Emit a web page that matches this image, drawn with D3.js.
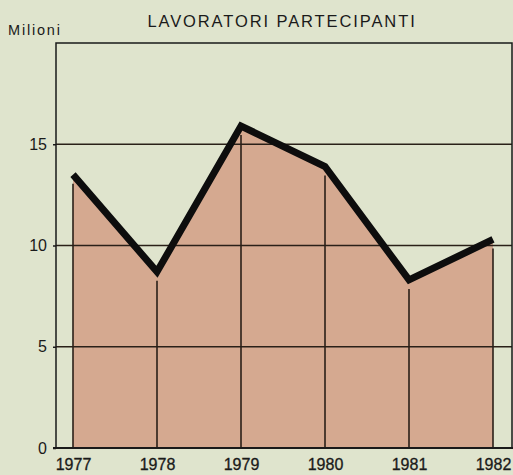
<!DOCTYPE html>
<html><head><meta charset="utf-8">
<script src="https://cdn.jsdelivr.net/npm/d3@7"></script>
<style>
html,body{margin:0;padding:0;background:#dfe4cd;}
svg{display:block;}
text{font-family:"Liberation Sans",Arial,sans-serif;fill:#1a1a1a;}
</style></head><body>
<svg id="c" width="513" height="475"></svg>
<script>
const years = [1977, 1978, 1979, 1980, 1981, 1982];
const values = [13.5, 8.7, 15.9, 13.9, 8.3, 10.3];
const yTicks = [0, 5, 10, 15];
const title = "LAVORATORI PARTECIPANTI";
const unitLabel = "Milioni";

(function () {
const svg = d3.select("#c");
const W = 513, H = 475;
const pLeft = 56, pRight = 512, pTop = 43, pBottom = 448;

const x = d3.scalePoint().domain(years).range([73, 493]);
const y = d3.scaleLinear().domain([0, 20]).range([pBottom, pTop]);

svg.append("rect").attr("width", W).attr("height", H).attr("fill", "#dfe4cd");

const data = years.map((yr, i) => ({yr, v: values[i]}));

// area fill
svg.append("path").datum(data)
  .attr("d", d3.area().x(d => x(d.yr)).y0(y(0)).y1(d => y(d.v)))
  .attr("fill", "#d5a990");

// horizontal grid
svg.append("g").selectAll("line").data(yTicks.filter(t => t > 0)).join("line")
  .attr("x1", pLeft).attr("x2", pRight)
  .attr("y1", d => y(d)).attr("y2", d => y(d))
  .attr("stroke", "#2a2018").attr("stroke-width", 1.6);

// vertical grid (inside area)
svg.append("g").selectAll("line").data(data).join("line")
  .attr("x1", d => x(d.yr)).attr("x2", d => x(d.yr))
  .attr("y1", d => y(d.v) + 9).attr("y2", y(0))
  .attr("stroke", "#2a2018").attr("stroke-width", 1.6);

// frame
svg.append("path")
  .attr("d", `M${pLeft},${pBottom}V${pTop}H${pRight}V${pBottom}`)
  .attr("fill", "none").attr("stroke", "#1a1a1a").attr("stroke-width", 1.5);
svg.append("line").attr("x1", pLeft - 3).attr("x2", pRight + 2)
  .attr("y1", pBottom).attr("y2", pBottom)
  .attr("stroke", "#1a1a1a").attr("stroke-width", 2);

// data line
svg.append("path").datum(data)
  .attr("d", d3.line().x(d => x(d.yr)).y(d => y(d.v)))
  .attr("fill", "none").attr("stroke", "#0d0d0d").attr("stroke-width", 7)
  .attr("stroke-linejoin", "miter");

// y axis labels
const yAxis = d3.axisLeft(y).tickValues(yTicks).tickSize(3).tickPadding(6).tickFormat(d3.format("d"));
const ya = svg.append("g").attr("transform", `translate(${pLeft},0)`).call(yAxis);
ya.select(".domain").remove();
ya.selectAll("line").attr("stroke", "#1a1a1a").attr("stroke-width", 1.5);
ya.selectAll("text").attr("font-size", 16).attr("fill", "#1a1a1a")
  .attr("font-family", "'Liberation Sans',Arial,sans-serif");

// x axis labels
const xAxis = d3.axisBottom(x).tickSize(0).tickPadding(10.5).tickFormat(d3.format("d"));
const xa = svg.append("g").attr("transform", `translate(0,${pBottom})`).call(xAxis);
xa.select(".domain").remove();
xa.selectAll("text").attr("font-size", 16).attr("fill", "#1a1a1a")
  .attr("stroke", "#1a1a1a").attr("stroke-width", 0.3)
  .attr("font-family", "'Liberation Sans',Arial,sans-serif");

// title & unit
svg.append("text").attr("x", 282).attr("y", 27).attr("text-anchor", "middle")
  .attr("font-size", 16.5).attr("letter-spacing", 1.9).text(title);
svg.append("text").attr("x", 8).attr("y", 35).attr("font-size", 14.5)
  .attr("letter-spacing", 1.8).text(unitLabel);
})();
</script>
</body></html>
